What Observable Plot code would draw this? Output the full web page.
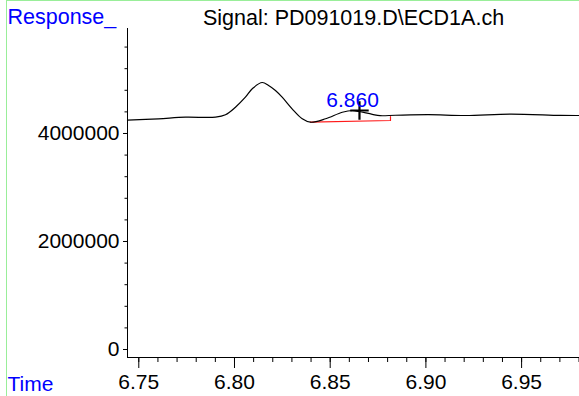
<!DOCTYPE html>
<html><head><meta charset="utf-8">
<script src="https://cdn.jsdelivr.net/npm/d3@7"></script>
<script src="https://cdn.jsdelivr.net/npm/@observablehq/plot@0.6"></script>
<style>
body{margin:0;background:#fff;}
#wrap{position:relative;width:579px;height:396px;overflow:hidden;}
#border{position:absolute;left:6px;top:0;width:573px;height:396px;border-top:1px solid #99ee99;border-left:1px solid #99ee99;box-sizing:border-box;pointer-events:none;}
</style></head>
<body><div id="wrap"><div id="border"></div></div>
<script>
// Chromatogram trace (time in min, response)
const times = [6.7441, 6.7603, 6.7744, 6.7901, 6.7953, 6.8005, 6.8057, 6.8094, 6.8145, 6.8178, 6.8214, 6.8249, 6.8301, 6.8354, 6.8397, 6.8476, 6.8563, 6.8617, 6.8650, 6.8720, 6.8760, 6.8841, 6.9014, 6.9207, 6.9442, 6.9703, 6.9802];
const responses = [4246000, 4272000, 4302000, 4302000, 4346000, 4487000, 4672000, 4833000, 4944000, 4889000, 4796000, 4672000, 4457000, 4272000, 4209000, 4272000, 4394000, 4426000, 4407000, 4355000, 4330000, 4338000, 4350000, 4333000, 4360000, 4335000, 4333000];
// Integration baseline (red)
const baselineTimes = [6.8397, 6.8815, 6.8815];
const baselineResp = [4209000, 4240000, 4315000];
// Peak annotation
const peakLabel = "6.860";
const peakLabelTime = 6.8617;
const markerTime = 6.8653;
const markerResp = 4426000;
// Axis ticks
const xMajorTicks = [6.75, 6.80, 6.85, 6.90, 6.95];
const xMinorTicks = [6.75,6.76,6.77,6.78,6.79,6.80,6.81,6.82,6.83,6.84,6.85,6.86,6.87,6.88,6.89,6.90,6.91,6.92,6.93,6.94,6.95,6.96,6.97,6.98];
const yMajorTicks = [0, 2000000, 4000000];
const yMinorTicks = [0,400000,800000,1200000,1600000,2000000,2400000,2800000,3200000,3600000,4000000,4400000,4800000,5200000,5600000];
const titleText = "Signal: PD091019.D\\ECD1A.ch";
const yLabelText = "Response_";
const xLabelText = "Time";
const xDomain = [6.7441, 6.98025];
const yDomain = [-148000, 5944000];

const trace = times.map((t, i) => ({t, r: responses[i]}));
const base = baselineTimes.map((t, i) => ({t, r: baselineResp[i]}));

const chart = Plot.plot({
  width: 579, height: 396,
  marginLeft: 127, marginRight: 0, marginTop: 28, marginBottom: 39,
  style: {fontFamily: "'Liberation Sans', Arial, sans-serif", fontSize: "21px", background: "transparent", overflow: "visible"},
  x: {domain: xDomain, label: null},
  y: {domain: yDomain, label: null},
  marks: [
    Plot.ruleX([xDomain[0]], {stroke: "black", strokeWidth: 1}),
    Plot.ruleY([yDomain[0]], {stroke: "black", strokeWidth: 1}),
    Plot.axisX({ticks: xMinorTicks, tickSize: 5, tickFormat: () => "", stroke: "black"}),
    Plot.axisX({ticks: xMajorTicks, tickSize: 11, tickPadding: 6, tickFormat: d3.format(".2f"), fill: "black", stroke: "black"}),
    Plot.axisY({ticks: yMinorTicks, tickSize: 2.5, tickFormat: () => "", stroke: "black"}),
    Plot.axisY({ticks: yMajorTicks, tickSize: 4, tickPadding: 4, tickFormat: d => String(d), fill: "black", stroke: "black"}),
    Plot.line(base, {x: "t", y: "r", stroke: "#ff1a1a", strokeWidth: 1.2}),
    Plot.line(trace, {x: "t", y: "r", stroke: "black", strokeWidth: 1.2, curve: "catmull-rom"}),
    Plot.dot([{t: markerTime, r: markerResp}], {x: "t", y: "r", symbol: "plus", r: 6, stroke: "black", strokeWidth: 2.2}),
    Plot.text([peakLabel], {x: () => peakLabelTime, y: () => markerResp, text: d => d, fill: "#0000ff", lineAnchor: "bottom", dy: -3}),
    Plot.text([titleText], {frameAnchor: "top", text: d => d, lineAnchor: "bottom", dy: -4, fontSize: 21.5, fill: "black"}),
    Plot.text([yLabelText], {frameAnchor: "top-left", text: d => d, textAnchor: "start", lineAnchor: "bottom", dx: -120, dy: -5, fontSize: 21.5, fill: "#0000ff"}),
    Plot.text([xLabelText], {frameAnchor: "bottom-left", text: d => d, textAnchor: "start", lineAnchor: "top", dx: -120, dy: 19, fontSize: 21, fill: "#0000ff"})
  ]
});
document.getElementById("wrap").insertBefore(chart, document.getElementById("border"));
</script>
</body></html>
